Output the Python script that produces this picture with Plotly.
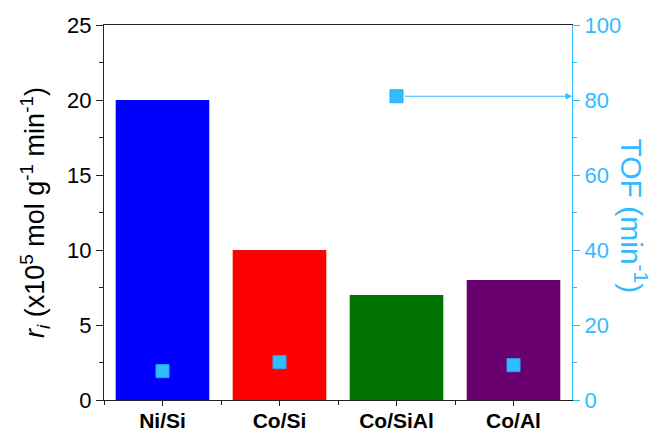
import plotly.graph_objects as go

catalysts = ["Ni/Si", "Co/Si", "Co/SiAl", "Co/Al"]
rate_values = [20, 10, 7, 8]
tof_values = [7.7, 10.1, 81, 9.3]
bar_colors = ["#0000FF", "#FF0000", "#007300", "#6A0070"]

TOF_COLOR = "#33BBFF"
FONT = "Liberation Sans, Arial, sans-serif"

fig = go.Figure()

fig.add_trace(go.Bar(
    x=catalysts, y=rate_values, width=0.8,
    marker=dict(color=bar_colors, line=dict(width=0)),
    showlegend=False,
))

fig.add_trace(go.Scatter(
    x=catalysts, y=tof_values, yaxis="y2", mode="markers",
    marker=dict(symbol="square", size=13, color=TOF_COLOR,
                line=dict(color="#22AAEE", width=1)),
    showlegend=False,
))

# arrow pointing the Co/SiAl TOF point to its axis
fig.add_annotation(
    x=3.5, y=tof_values[2], xref="x", yref="y2",
    ax=2.06, ay=tof_values[2], axref="x", ayref="y2",
    showarrow=True, arrowhead=2, arrowsize=1.3, arrowwidth=1,
    arrowcolor=TOF_COLOR, text="",
)

# right-hand axis title, reading top to bottom
fig.add_annotation(
    x=1.132, y=0.49, xref="paper", yref="paper",
    text="TOF (min<sup>-1</sup>)", textangle=90, showarrow=False,
    xanchor="center", yanchor="middle",
    font=dict(size=30, color=TOF_COLOR, family=FONT),
)

fig.update_layout(
    width=654, height=435,
    margin=dict(l=104, r=82, t=25, b=35),
    paper_bgcolor="white", plot_bgcolor="white",
    font=dict(family=FONT, color="black"),
    bargap=0.2,
    xaxis=dict(
        range=[-0.5, 3.5], showline=True, linecolor="#222", linewidth=1.2,
        mirror=True, ticks="outside", ticklen=5, tickcolor="#222",
        tickfont=dict(size=21, family=FONT, weight="bold"),
        ticklabelstandoff=-3,
        showgrid=False, zeroline=False, automargin=False,
        minor=dict(ticks="outside", ticklen=4, tickcolor="#222",
                   tickvals=[-0.5, 0.5, 1.5, 2.5]),
    ),
    yaxis=dict(
        range=[0, 25], dtick=5, showline=True, linecolor="#222", linewidth=1.2,
        ticks="outside", ticklen=7, tickcolor="#222",
        tickfont=dict(size=22), showgrid=False, zeroline=False, automargin=False,
        minor=dict(ticks="outside", ticklen=4, dtick=2.5, tickcolor="#222"),
        title=dict(text="<i>r<sub>i</sub></i> (x10<sup>5</sup> mol g<sup>-1</sup> min<sup>-1</sup>)",
                   font=dict(size=27), standoff=14),
    ),
    yaxis2=dict(
        overlaying="y", side="right", range=[0, 100], dtick=20,
        showline=True, linecolor=TOF_COLOR, linewidth=1.2,
        ticks="outside", ticklen=7, tickcolor=TOF_COLOR,
        tickfont=dict(size=22, color=TOF_COLOR), showgrid=False, zeroline=False,
        automargin=False,
        minor=dict(ticks="outside", ticklen=4, dtick=10, tickcolor=TOF_COLOR),
    ),
)

fig.write_html("out.html")
